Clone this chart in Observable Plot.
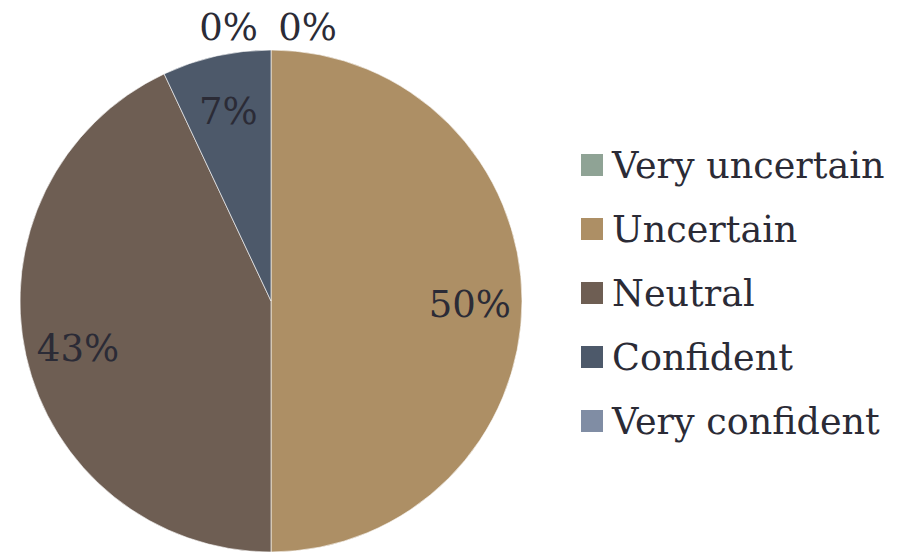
<!DOCTYPE html>
<html><head><meta charset="utf-8">
<script src="https://cdn.jsdelivr.net/npm/d3@7"></script>
<script src="https://cdn.jsdelivr.net/npm/@observablehq/plot@0.6"></script>
<style>
body{margin:0;background:#fff;}
#chart{position:relative;width:906px;height:553px;overflow:hidden;font-family:"DejaVu Serif",serif;color:#2b2b36}
#chart svg{position:absolute;left:0;top:0;}
.legend{position:absolute;left:581px;top:133px;}
.item{display:flex;align-items:center;height:64px;font-size:36.5px;white-space:nowrap;}
.sw{width:22px;height:22px;margin-right:9px;flex:none;}
</style></head><body><div id="chart"></div>
<script>
const categories = ["Very uncertain", "Uncertain", "Neutral", "Confident", "Very confident"];
const values = [0, 50, 43, 7, 0];
const labels = ["0%", "50%", "43%", "7%", "0%"];
const colors = ["#8fa395", "#ad8f65", "#6e5e53", "#4d596a", "#808da4"];

const data = categories.map((category, i) => ({category, value: values[i], label: labels[i]}));
const color = Plot.scale({color: {domain: categories, range: colors}});

const arcs = d3.pie().sort(null).value(d => d.value).startAngle(0).endAngle(2 * Math.PI)(data);

// label anchor in pie units (radius = 1)
const labelData = arcs.map((a, i) => {
  const mid = (a.startAngle + a.endAngle) / 2;
  const rho = a.data.value === 0 ? 1.09 : 0.79;
  return {label: a.data.label, zero: a.data.value === 0, side: i === 0 ? 1 : -1,
          x: rho * Math.sin(mid), y: rho * Math.cos(mid)};
});

function pieMark(index, scales) {
  const {x, y} = scales;
  const cx = x(0), cy = y(0), r = x(1) - x(0);
  const arc = d3.arc().innerRadius(0).outerRadius(r);
  const g = d3.create("svg:g").attr("transform", `translate(${cx},${cy})`);
  g.selectAll("path").data(arcs.filter(a => a.data.value > 0)).join("path")
    .attr("d", arc)
    .attr("fill", d => color.apply(d.data.category))
    .attr("stroke", "#ffffff").attr("stroke-opacity", 0.6).attr("stroke-width", 1);
  return g.node();
}

const cx = 271, cy = 301, R = 251;
const textStyle = {text: "label", x: "x", y: "y", fontSize: 37, fill: "#2b2b36", fontFamily: "DejaVu Serif"};

const plot = Plot.plot({
  width: 906, height: 553, margin: 0,
  x: {domain: [-1, 1], range: [cx - R, cx + R], axis: null},
  y: {domain: [-1, 1], range: [cy + R, cy - R], axis: null},
  style: {background: "transparent", overflow: "visible"},
  marks: [
    pieMark,
    Plot.text(labelData.filter(d => !d.zero), {...textStyle, dy: 4}),
    Plot.text(labelData.filter(d => d.zero && d.side > 0), {...textStyle, dx: 36}),
    Plot.text(labelData.filter(d => d.zero && d.side < 0), {...textStyle, dx: -43})
  ]
});

const chart = document.getElementById("chart");
chart.appendChild(plot);

const legend = d3.select(chart).append("div").attr("class", "legend");
const items = legend.selectAll(".item").data(categories).join("div").attr("class", "item");
items.append("div").attr("class", "sw").style("background", d => color.apply(d));
items.append("span").text(d => d);
</script>
</body></html>
